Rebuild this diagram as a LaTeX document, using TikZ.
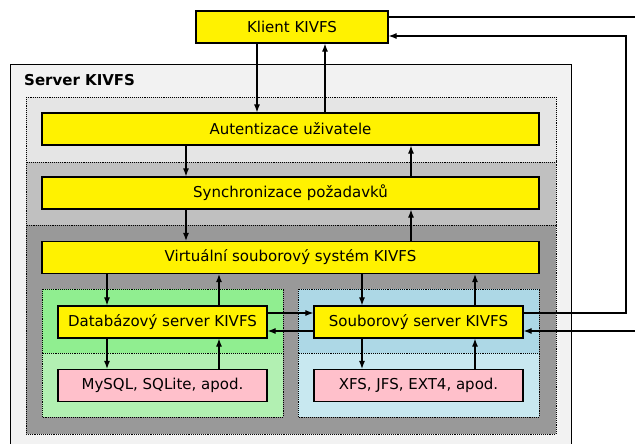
\documentclass[tikz,border=0pt]{standalone}
\usepackage{fontspec}
\setmainfont{DejaVu Sans}
\usetikzlibrary{arrows.meta}

\definecolor{srvgray}{HTML}{F2F2F2}
\definecolor{authgray}{HTML}{E5E5E5}
\definecolor{syncgray}{HTML}{C0C0C0}
\definecolor{vfsgray}{HTML}{999999}
\definecolor{dbgreen}{HTML}{90EE90}
\definecolor{dblight}{HTML}{B2F0B2}
\definecolor{fsblue}{HTML}{ADD8E6}
\definecolor{fslight}{HTML}{C8E8F0}
\definecolor{backpink}{HTML}{FFC0CB}

\begin{document}
\begin{tikzpicture}[x=1pt, y=-1pt, every node/.style={font=\fontsize{15}{18}\selectfont}, >={Latex[length=8pt,width=6pt]},
	box/.style={draw, line width=1.2pt, fill=yellow, minimum height=32pt, inner sep=0pt},
	backend/.style={box, fill=backpink},
	layer/.style={draw, densely dotted, line width=0.9pt},
	link/.style={->, line width=1.1pt}]
	\useasboundingbox (0,0) rectangle (635,444);
	% server and its layers
	\fill[srvgray] (10,65) rectangle (571,444);
	\draw[line width=1pt] (10,444) |- (571,65) -- (571,444);
	\node[font=\fontsize{15}{18}\selectfont\bfseries, anchor=base west, inner sep=0pt] (srv) at (24,86) {Server KIVFS};
	\draw[layer, fill=authgray] (26,97) rectangle (556,162);
	\draw[layer, fill=syncgray] (26,162) rectangle (556,225);
	\draw[layer, fill=vfsgray] (26,225) rectangle (556,434);
	\draw[layer, fill=dbgreen] (42,289) rectangle (283,353);
	\draw[layer, fill=dblight] (42,353) rectangle (283,417);
	\draw[layer, fill=fsblue] (298,289) rectangle (539,353);
	\draw[layer, fill=fslight] (298,353) rectangle (539,417);

	\node[box, minimum width=192pt] (klient) at (292,27) {Klient KIVFS};
	\node[box, minimum width=497pt] (aut) at (290.5,129) {Autentizace uživatele};
	\node[box, minimum width=497pt] (sync) at (290.5,193) {Synchronizace požadavků};
	\node[box, minimum width=497pt] (vfs) at (290.5,257.5) {Virtuální souborový systém KIVFS};
	\node[box, minimum width=209pt] (db) at (162.5,322) {Databázový server KIVFS};
	\node[box, minimum width=209pt] (soub) at (418.5,322) {Souborový server KIVFS};
	\node[backend, minimum width=209pt] (sql) at (162.5,385.5) {MySQL, SQLite, apod.};
	\node[backend, minimum width=209pt] (xfs) at (418.5,385.5) {XFS, JFS, EXT4, apod.};

	% columns and rows of the connectors
	\coordinate (c1) at (257,0);
	\coordinate (c2) at (325,0);
	\coordinate (c3) at (186,0);
	\coordinate (c4) at (411,0);
	\coordinate (c5) at (107,0);
	\coordinate (c6) at (219,0);
	\coordinate (c7) at (362,0);
	\coordinate (c8) at (475,0);
	\coordinate (r1) at (0,313);
	\coordinate (r2) at (0,331);
	\coordinate (kin) at (626,36);
	\coordinate (kout) at (635,17);
	\coordinate (sin) at (635,331);

	\draw[link] (klient.south -| c1) -- (aut.north -| c1);
	\draw[link] (aut.north -| c2) -- (klient.south -| c2);
	\draw[link] (aut.south -| c3) -- (sync.north -| c3);
	\draw[link] (sync.north -| c4) -- (aut.south -| c4);
	\draw[link] (sync.south -| c3) -- (vfs.north -| c3);
	\draw[link] (vfs.north -| c4) -- (sync.south -| c4);
	\draw[link] (vfs.south -| c5) -- (db.north -| c5);
	\draw[link] (db.north -| c6) -- (vfs.south -| c6);
	\draw[link] (vfs.south -| c7) -- (soub.north -| c7);
	\draw[link] (soub.north -| c8) -- (vfs.south -| c8);
	\draw[link] (db.south -| c5) -- (sql.north -| c5);
	\draw[link] (sql.north -| c6) -- (db.south -| c6);
	\draw[link] (soub.south -| c7) -- (xfs.north -| c7);
	\draw[link] (xfs.north -| c8) -- (soub.south -| c8);
	\draw[link] (db.east |- r1) -- (soub.west |- r1);
	\draw[link] (soub.west |- r2) -- (db.east |- r2);
	\draw[link] (soub.east |- r1) -| (kin) -- (klient.east |- kin);
	\draw[line width=1.1pt] (klient.east |- kout) -- (kout);
	\draw[link] (sin) -- (soub.east |- sin);
\end{tikzpicture}
\end{document}
